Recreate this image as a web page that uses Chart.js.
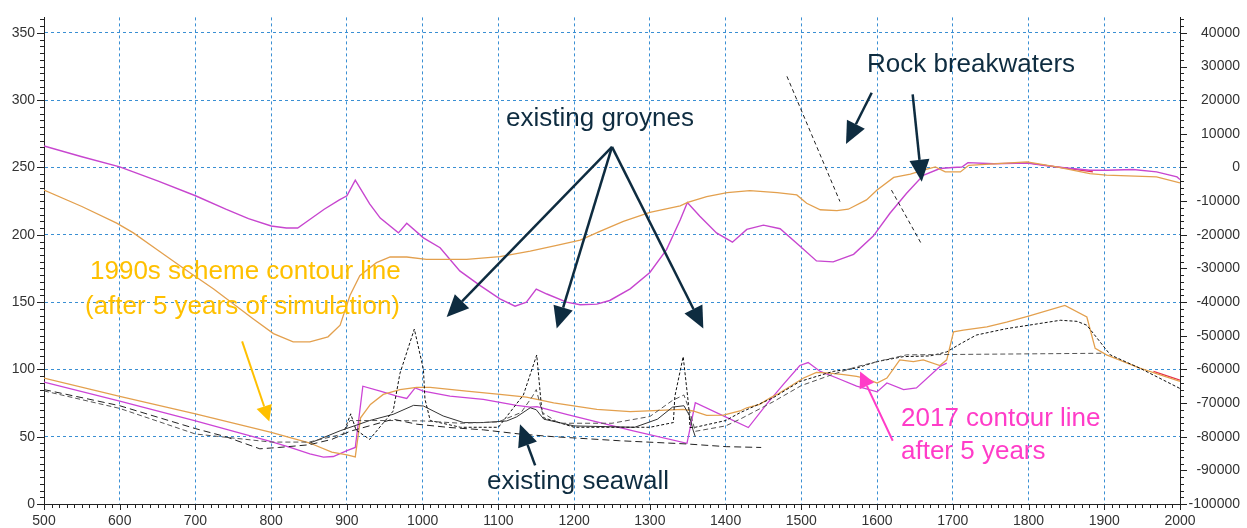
<!DOCTYPE html>
<html>
<head>
<meta charset="utf-8">
<script src="https://cdn.jsdelivr.net/npm/chart.js@4.4.1/dist/chart.umd.min.js"></script>
<style>
  html, body { margin: 0; padding: 0; background: #fff; }
  #wrap { position: relative; width: 1247px; height: 528px; }
  #chart { position: absolute; left: 0; top: 0; }
  .note { position: absolute; font-family: "Liberation Sans", Arial, sans-serif; font-size: 26px; line-height: 26px; white-space: nowrap; }
  .navy { color: #0e2c40; }
  .amber { color: #ffc000; }
  .pink { color: #ff3cc8; }
</style>
</head>
<body>
<div id="wrap">
  <canvas id="chart" width="1247" height="528"></canvas>
  <div class="note navy" style="left:506px; top:104px;">existing groynes</div>
  <div class="note navy" style="left:867px; top:50px;">Rock breakwaters</div>
  <div class="note navy" style="left:487px; top:467px;">existing seawall</div>
  <div class="note amber" style="left:90px; top:257px;">1990s scheme contour line</div>
  <div class="note amber" style="left:85px; top:292px;">(after 5 years of simulation)</div>
  <div class="note pink" style="left:901px; top:404px;">2017 contour line</div>
  <div class="note pink" style="left:901px; top:437px;">after 5 years</div>
</div>
<script>
// ---- tick labels ----
const xTicks = [500, 600, 700, 800, 900, 1000, 1100, 1200, 1300, 1400, 1500, 1600, 1700, 1800, 1900, 2000];
const leftTicks = [0, 50, 100, 150, 200, 250, 300, 350];
const rightTicks = [-100000, -90000, -80000, -70000, -60000, -50000, -40000, -30000, -20000, -10000, 0, 10000, 20000, 30000, 40000];

// ---- upper curves (right axis units) ----
const mUpX = [500, 550, 600, 650, 700, 740, 770, 800, 820, 835, 850, 870, 890, 900, 911, 930, 944, 968, 979, 1001, 1023, 1049, 1076, 1102, 1122, 1137, 1150, 1164, 1190, 1208, 1230, 1247, 1274, 1300, 1322, 1340, 1349.5, 1366, 1388, 1409, 1428, 1450, 1472, 1498, 1520, 1542, 1569, 1595, 1617, 1639, 1661, 1683, 1700, 1712, 1720, 1754, 1798, 1837, 1881, 1903, 1938, 1969, 1996, 2000];
const mUpY = [6400, 3200, 160, -4000, -8400, -12400, -15200, -17400, -18000, -18000, -15600, -12400, -9600, -8400, -3760, -10800, -15040, -19440, -16600, -20920, -23840, -30720, -35120, -39040, -41200, -40000, -36120, -37600, -40000, -40800, -40600, -39520, -36080, -31200, -24400, -15600, -10400, -14480, -19440, -22200, -18400, -17120, -18200, -23320, -27760, -28040, -25800, -20400, -13600, -7680, -2320, -320, 0, 160, 1440, 1120, 1320, 160, -800, -800, -600, -1320, -2800, -3600];

const oUpX = [500, 550, 596, 618, 649, 686, 724, 776, 803, 829, 851, 875, 891, 904, 917, 939, 957, 979, 1005, 1058, 1102, 1142, 1177, 1208, 1234, 1265, 1300, 1340, 1350, 1375, 1402, 1432, 1468, 1494, 1507, 1525, 1547, 1562, 1586, 1600, 1622, 1644, 1661, 1677, 1690, 1710, 1721, 1798, 1837, 1881, 1903, 1969, 2000];
const oUpY = [-6720, -11600, -16520, -19440, -24400, -30240, -36120, -44920, -49360, -51800, -51800, -50320, -46880, -38040, -32160, -28280, -26600, -26600, -27280, -27280, -26520, -24840, -23160, -21600, -18960, -16000, -13360, -11400, -10400, -8640, -7480, -6880, -7480, -8160, -10640, -12560, -12800, -12400, -9640, -6680, -2960, -2000, -800, 160, -1320, -1320, 640, 1640, 160, -1800, -2280, -2800, -4560];

const redUpX = [1797, 1837, 1885];
const redUpY = [1400, 160, -1300];

// ---- rock breakwaters (left axis units) ----
const bw1X = [1481, 1551];
const bw1Y = [317.7, 224.7];
const bw2X = [1619, 1659];
const bw2Y = [233.2, 192.8];

// ---- lower contour lines (left axis units) ----
const mLowX = [500, 600, 700, 800, 825, 851, 869, 882, 900, 911, 921, 944, 966, 979, 990, 1001, 1036, 1080, 1124, 1142, 1151, 1190, 1278, 1349, 1360, 1402, 1430, 1454, 1476, 1498, 1509, 1525, 1547, 1573, 1600, 1613, 1635, 1652, 1683, 1692];
const mLowY = [90.6, 76.4, 61.8, 46.3, 42, 37.3, 34.8, 35.3, 39.7, 42, 87.5, 83.8, 80.1, 78.4, 86.2, 83.8, 80.1, 77.7, 73.3, 72, 72.3, 66.6, 54.4, 45.1, 75.2, 64.2, 56.8, 74, 88.7, 102.9, 105.1, 98.5, 93.6, 87.5, 83.3, 89.9, 85, 86.2, 102.2, 104.6];

const oLowX = [500, 600, 700, 800, 850, 880, 900, 911, 918, 931, 948, 970, 992, 1010, 1058, 1102, 1137, 1173, 1230, 1274, 1313, 1344, 1357, 1375, 1397, 1419, 1428, 1445, 1459, 1468, 1503, 1520, 1538, 1556, 1573, 1586, 1600, 1613, 1630, 1648, 1661, 1683, 1692, 1701, 1714, 1745, 1771, 1800, 1848, 1877, 1888, 1903, 1947, 2000];
const oLowY = [93.6, 80, 67, 53.2, 45.5, 38.5, 36.5, 35, 64, 74, 81.4, 85, 86.7, 86.7, 83.8, 81.4, 79.4, 75.2, 70.3, 68.6, 69.6, 70.3, 69.1, 65.9, 66.1, 69.1, 71.5, 74, 78.9, 81.4, 93.6, 97.8, 97.3, 96.1, 94.8, 93.1, 89.9, 93.6, 107.1, 105.8, 107.1, 102.9, 107.1, 127.9, 129.1, 131.6, 135.2, 139.6, 147.5, 138.9, 115.6, 110.8, 100.9, 91.1];

const redLowX = [1965, 2000];
const redLowY = [98.5, 92];

const seawallX = [500, 600, 700, 740, 785, 810, 850, 880, 904, 961, 992, 1036, 1080, 1128, 1173, 1260, 1349, 1401, 1447];
const seawallY = [85, 73, 56, 50, 41, 42, 44, 48, 54, 63, 59.3, 56.8, 55.1, 52, 50, 47, 44.6, 42.6, 42];

const solidX = [850, 891, 930, 961, 988, 1001, 1027, 1054, 1080, 1111, 1124, 1142, 1150, 1160, 1200, 1280, 1310, 1330, 1345, 1352, 1357, 1360];
const solidY = [45, 54.4, 62, 66.6, 73.3, 72.8, 65.4, 60.5, 60.5, 61.7, 64.7, 71.5, 70, 63, 58, 57, 63, 72, 73, 66, 55, 50];

const dash2X = [500, 600, 700, 800, 850, 895, 904, 961, 1001, 1050, 1100, 1130, 1145, 1150, 1158, 1180, 1250, 1300, 1330, 1345, 1352, 1360, 1400, 1419, 1463, 1500, 1540, 1573, 1604, 1639, 1900];
const dash2Y = [84, 71, 52, 46, 46, 52, 62, 62, 61.7, 60, 61, 68, 80, 85, 68, 60, 60, 65, 77, 81, 70, 54, 58, 63, 76, 88, 96, 102, 106.3, 110.8, 112];

const fineX = [897, 905, 912, 930, 961, 970, 989, 1001, 1003, 1010, 1050, 1100, 1133, 1150.6, 1157, 1160, 1200, 1250, 1300, 1331, 1333, 1344, 1351, 1353, 1360, 1400, 1419, 1463, 1498, 1542, 1573, 1600, 1635, 1670, 1692, 1710, 1731, 1771, 1800, 1842, 1864, 1877, 1908, 1947, 2000];
const fineY = [55, 67, 55, 48, 69, 97, 130, 100, 78, 62, 57, 57, 81, 110.7, 71.5, 64, 57, 57, 57, 60.5, 80, 109.5, 74, 56.8, 57, 62, 67.8, 79, 91, 98.5, 101, 105.8, 109.5, 110, 113, 119, 125.5, 130.3, 132.8, 136.5, 135.7, 132.8, 110.8, 100.9, 85.8];

// annotation arrows, in left-axis data units: [x0, y0, x1, y1]
const navyArrows = [
  [1250, 265.3, 1031.7, 138.9],
  [1250, 265.3, 1177, 130.3],
  [1250, 265.3, 1370.6, 130.3],
  [1592.9, 305.5, 1559, 267.5],
  [1647, 304.3, 1659, 239.4],
  [1148.5, 28.7, 1128.5, 59.3]
];
const amberArrows = [[761.6, 120.8, 797.5, 61.2]];
const pinkArrows = [[1620.7, 47, 1577.6, 98.5]];

const FONT = '"Liberation Sans", Arial, sans-serif';
const pts = (xs, ys) => xs.map((x, i) => ({ x: x, y: ys[i] }));

const line = (xs, ys, color, width, dash, axis) => ({
  data: pts(xs, ys),
  borderColor: color,
  borderWidth: width,
  borderDash: dash || [],
  yAxisID: axis || 'y',
  pointRadius: 0,
  tension: 0,
  fill: false
});

const drawArrow = (ctx, x0, y0, x1, y1, color, w, headLen, headW) => {
  const ang = Math.atan2(y1 - y0, x1 - x0);
  const bx = x1 - headLen * Math.cos(ang);
  const by = y1 - headLen * Math.sin(ang);
  ctx.strokeStyle = color;
  ctx.fillStyle = color;
  ctx.lineWidth = w;
  ctx.beginPath();
  ctx.moveTo(x0, y0);
  ctx.lineTo(bx, by);
  ctx.stroke();
  ctx.beginPath();
  ctx.moveTo(x1, y1);
  ctx.lineTo(bx + headW * Math.sin(ang), by - headW * Math.cos(ang));
  ctx.lineTo(bx - headW * Math.sin(ang), by + headW * Math.cos(ang));
  ctx.closePath();
  ctx.fill();
};

// minor/major tick marks on the three axes + annotation arrows
const axisTicks = {
  id: 'axisTicks',
  afterDraw(chart) {
    const { ctx, scales: { x, y, y2 } } = chart;
    ctx.save();
    ctx.strokeStyle = '#222';
    ctx.lineWidth = 1;
    ctx.beginPath();
    for (let v = 500; v <= 2000; v += 10) {
      const p = Math.round(x.getPixelForValue(v)) + 0.5;
      ctx.moveTo(p, x.top);
      ctx.lineTo(p, x.top + (v % 100 === 0 ? 6 : 4));
    }
    for (let v = 0; v <= 360; v += 5) {
      const p = Math.round(y.getPixelForValue(v)) + 0.5;
      ctx.moveTo(y.right, p);
      ctx.lineTo(y.right - (v % 50 === 0 ? 7 : 4), p);
    }
    for (let v = -100000; v <= 44000; v += 2000) {
      const p = Math.round(y2.getPixelForValue(v)) + 0.5;
      ctx.moveTo(y2.left, p);
      ctx.lineTo(y2.left + (v % 10000 === 0 ? 7 : 4), p);
    }
    ctx.stroke();

    const px = (a) => [x.getPixelForValue(a[0]), y.getPixelForValue(a[1]), x.getPixelForValue(a[2]), y.getPixelForValue(a[3])];
    navyArrows.forEach(a => { const p = px(a); drawArrow(ctx, p[0], p[1], p[2], p[3], '#0e2c40', 2.5, 22, 10); });
    amberArrows.forEach(a => { const p = px(a); drawArrow(ctx, p[0], p[1], p[2], p[3], '#ffc000', 2, 16, 8); });
    pinkArrows.forEach(a => { const p = px(a); drawArrow(ctx, p[0], p[1], p[2], p[3], '#ff3cc8', 2, 16, 8); });
    ctx.restore();
  }
};

const gridColor = '#3a8fd3';
const tickFont = { size: 14, family: FONT };
const plain = (v) => String(v);
const setTicks = (list) => (s) => { s.ticks = list.map(v => ({ value: v })); };

new Chart(document.getElementById('chart'), {
  type: 'line',
  data: {
    datasets: [
      line(seawallX, seawallY, '#222', 1, [7, 4]),
      line(dash2X, dash2Y, '#555', 1, [5, 3]),
      line(fineX, fineY, '#111', 1, [3, 2]),
      line(solidX, solidY, '#333', 1),
      line(bw1X, bw1Y, '#222', 1, [4, 3]),
      line(bw2X, bw2Y, '#222', 1, [4, 3]),
      line(oLowX, oLowY, '#e3a04e', 1.3),
      line(mLowX, mLowY, '#cc44d6', 1.3),
      line(redLowX, redLowY, '#e8304a', 1.3),
      line(oUpX, oUpY, '#e3a04e', 1.3, null, 'y2'),
      line(mUpX, mUpY, '#c746cf', 1.4, null, 'y2'),
      line(redUpX, redUpY, '#e8304a', 1.2, null, 'y2')
    ]
  },
  options: {
    responsive: false,
    animation: false,
    layout: { padding: { top: 12, right: 7, left: 0, bottom: 0 } },
    plugins: { legend: { display: false }, tooltip: { enabled: false } },
    scales: {
      x: {
        type: 'linear',
        min: 500,
        max: 2000,
        afterFit: (s) => { s.height = 24; },
        afterBuildTicks: setTicks(xTicks),
        ticks: { color: '#333', font: tickFont, padding: 9, maxRotation: 0, autoSkip: false, callback: plain },
        grid: { color: gridColor, drawTicks: false },
        border: { color: '#222', width: 1, dash: [3, 3] }
      },
      y: {
        position: 'left',
        min: 0,
        max: 361.5,
        afterFit: (s) => { s.width = 44; },
        afterBuildTicks: setTicks(leftTicks),
        ticks: { color: '#333', font: tickFont, padding: 9, autoSkip: false, callback: plain },
        grid: { color: gridColor, drawTicks: false },
        border: { color: '#222', width: 1, dash: [3, 3] }
      },
      y2: {
        position: 'right',
        min: -100000,
        max: 44600,
        afterFit: (s) => { s.width = 60; },
        afterBuildTicks: setTicks(rightTicks),
        ticks: { color: '#333', font: tickFont, padding: 9, crossAlign: 'far', autoSkip: false, callback: plain },
        grid: { display: false, drawTicks: false },
        border: { color: '#222', width: 1 }
      }
    }
  },
  plugins: [axisTicks]
});
</script>
</body>
</html>
